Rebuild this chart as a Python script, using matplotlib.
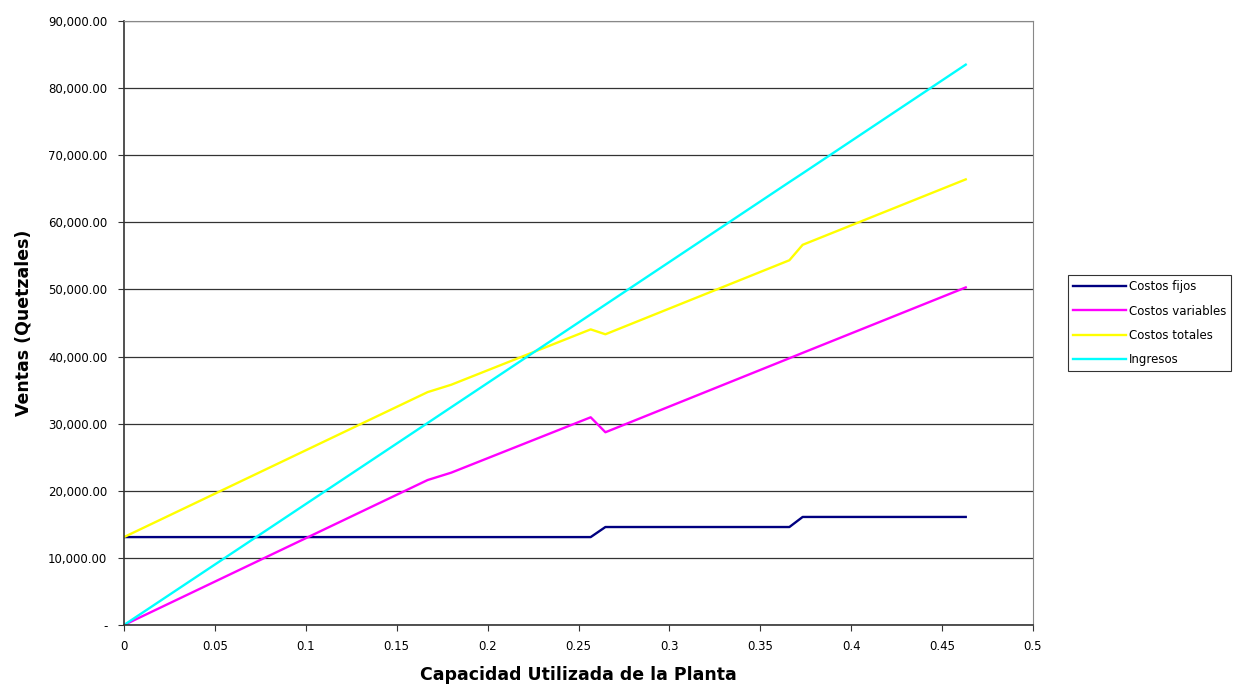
import matplotlib.pyplot as plt
from matplotlib.ticker import FuncFormatter

# capacidad utilizada (puntos de quiebre)
capacidad = [0, 0.167, 0.180, 0.2567, 0.2648, 0.366, 0.3733, 0.463]
costos_fijos = [13100, 13100, 13100, 13100, 14600, 14600, 16100, 16100]
costos_variables = [0, 21600, 22700, 30950, 28720, 39750, 40550, 50300]
costos_totales = [f + v for f, v in zip(costos_fijos, costos_variables)]
ingresos = [0, 30100, 32450, 46280, 47740, 66000, 67300, 83500]

series = [
    ("Costos fijos", costos_fijos, "#000080"),
    ("Costos variables", costos_variables, "#ff00ff"),
    ("Costos totales", costos_totales, "#ffff00"),
    ("Ingresos", ingresos, "#00ffff"),
]

fig = plt.figure(figsize=(12.33, 6.89), dpi=100)
ax = fig.add_axes([124 / 1233, 64 / 689, 909 / 1233, 604 / 689])

for nombre, vals, color in series:
    ax.plot(capacidad, vals, color=color, lw=1.7, label=nombre)

ax.set_xlim(0, 0.5)
ax.set_ylim(0, 90000)
ax.set_xticks([i * 0.05 for i in range(11)])
ax.set_xticklabels(["0", "0.05", "0.1", "0.15", "0.2", "0.25", "0.3", "0.35", "0.4", "0.45", "0.5"])
ax.set_yticks(range(0, 90001, 10000))
ax.yaxis.set_major_formatter(FuncFormatter(lambda v, p: "-" if v == 0 else f"{v:,.2f}"))
ax.tick_params(labelsize=8.5, length=4, color="#333333", direction="out")
ax.tick_params(axis="x", pad=7)
ax.tick_params(axis="y", pad=8)
ax.grid(axis="y", color="#333333", lw=0.9)
ax.set_axisbelow(True)
for s in ["top", "right"]:
    ax.spines[s].set_color("#888888")
for s in ["left", "bottom"]:
    ax.spines[s].set_color("#333333")
    ax.spines[s].set_linewidth(1.2)

ax.set_xlabel("Capacidad Utilizada de la Planta", fontsize=12.5, fontweight="bold")
ax.set_ylabel("Ventas (Quetzales)", fontsize=12.5, fontweight="bold")
ax.xaxis.set_label_coords(0.5, -(666 - 625) / 604)
ax.yaxis.set_label_coords((33 - 124) / 909, 0.5)

leg = fig.legend(loc="upper left", bbox_to_anchor=(1068 / 1233, 1 - 275 / 689), fontsize=8.5,
                 frameon=True, fancybox=False, edgecolor="black", handlelength=4.5,
                 handletextpad=0.2, borderpad=0.45, labelspacing=0.95, borderaxespad=0)
leg.get_frame().set_linewidth(0.8)

fig.savefig("out.png", dpi=100)
